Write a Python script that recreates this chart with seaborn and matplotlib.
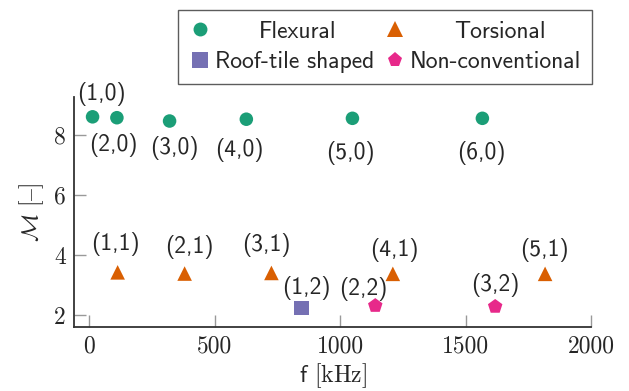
import matplotlib
matplotlib.use("Agg")
import matplotlib.pyplot as plt
import seaborn as sns
import pandas as pd
from matplotlib.lines import Line2D

# ---- data ----
flex_f = [13, 110, 320, 626, 1049, 1567]
flex_m = [8.61, 8.58, 8.47, 8.53, 8.56, 8.56]
flex_lab = ["(1,0)", "(2,0)", "(3,0)", "(4,0)", "(5,0)", "(6,0)"]

tors_f = [113, 380, 726, 1210, 1817]
tors_m = [3.43, 3.39, 3.41, 3.38, 3.38]
tors_lab = ["(1,1)", "(2,1)", "(3,1)", "(4,1)", "(5,1)"]

roof_f = [845]
roof_m = [2.25]
roof_lab = ["(1,2)"]

nonc_f = [1140, 1618]
nonc_m = [2.32, 2.29]
nonc_lab = ["(2,2)", "(3,2)"]

categories = ["Flexural", "Torsional", "Roof-tile shaped", "Non-conventional"]
x_ticks = [0, 500, 1000, 1500, 2000]
y_ticks = [2, 4, 6, 8]

# ---- styling (label offsets in pixels) ----
flex_off = [(9, 23), (-4, -27), (5, -27), (-7, -31), (-2, -35), (-1.5, -35)]
tors_off = [(-2, 28), (4.5, 27), (-4.7, 28), (2, 24), (-1, 24)]
roof_off = [(5, 20)]
nonc_off = [(-12, 17), (0, 22)]

colors = {"Flexural": "#1b9e77", "Torsional": "#d95f02",
          "Roof-tile shaped": "#7570b3", "Non-conventional": "#e7298a"}
markers = {"Flexural": "o", "Torsional": "^",
           "Roof-tile shaped": "s", "Non-conventional": "p"}
sizes = {"Flexural": 95, "Torsional": 110, "Roof-tile shaped": 110, "Non-conventional": 120}

sns.set_style("white")
plt.rcParams["mathtext.fontset"] = "cm"
plt.rcParams["axes.unicode_minus"] = False
plt.rcParams["axes.formatter.use_mathtext"] = True

FS = 17
SANS = ["cmss10", "DejaVu Sans"]
SERIF = ["cmr10", "DejaVu Serif"]

groups = [
    ("Flexural", flex_f, flex_m, flex_lab, flex_off),
    ("Torsional", tors_f, tors_m, tors_lab, tors_off),
    ("Roof-tile shaped", roof_f, roof_m, roof_lab, roof_off),
    ("Non-conventional", nonc_f, nonc_m, nonc_lab, nonc_off),
]
rows = []
for name, fs, ms, labs, offs in groups:
    for f, m, l in zip(fs, ms, labs):
        rows.append({"f": f, "M": m, "type": name, "label": l})
df = pd.DataFrame(rows)

fig = plt.figure(figsize=(6.29, 3.91), dpi=100)
ax = fig.add_axes([74 / 629, (391 - 326.7) / 391, (591 - 74) / 629, (326.7 - 97.3) / 391])

for name, fs, ms, labs, offs in groups:
    sub = df[df["type"] == name]
    sns.scatterplot(data=sub, x="f", y="M", marker=markers[name], color=colors[name],
                    s=sizes[name], edgecolor="none", linewidth=0, ax=ax, legend=False,
                    zorder=3)
    for f, m, l, (dx, dy) in zip(fs, ms, labs, offs):
        ax.annotate(l, (f, m), xytext=(dx, dy), textcoords="offset pixels",
                    ha="center", va="center", fontsize=FS, family=SANS)

ax.set_xlim(-61, 2000)
ax.set_ylim(1.62, 9.26)
ax.set_xticks(x_ticks)
ax.set_yticks(y_ticks)
ax.set_xticklabels([str(t) for t in x_ticks], family=SERIF, fontsize=FS)
ax.set_yticklabels([str(t) for t in y_ticks], family=SERIF, fontsize=FS)

for s in ["top", "right"]:
    ax.spines[s].set_visible(False)
for s in ["left", "bottom"]:
    ax.spines[s].set_color("#333333")
    ax.spines[s].set_linewidth(1.3)
ax.tick_params(direction="in", length=8.5, width=1.0, color="#999999", pad=6,
               left=True, bottom=True)

ax.set_xlabel(r"$\mathsf{f}$ [kHz]", family=SERIF, fontsize=FS, labelpad=3)
ax.set_ylabel(r"$\mathcal{M}\ [\mathrm{–}]$", family=SERIF, fontsize=FS, labelpad=6)

order = ["Flexural", "Roof-tile shaped", "Torsional", "Non-conventional"]
handles = [Line2D([], [], linestyle="none", marker=markers[n], color=colors[n],
                  markersize=11 if n != "Flexural" else 10, markeredgewidth=0)
           for n in order]
leg = fig.legend(handles, order, ncol=2, loc="upper right",
                 bbox_to_anchor=(592 / 629, 1 - 10 / 391),
                 prop={"family": SANS, "size": FS}, frameon=True, fancybox=False,
                 edgecolor="#333333", handletextpad=0.15, columnspacing=0.35,
                 handlelength=1.0, borderpad=0.45, labelspacing=0.35,
                 borderaxespad=0)
leg.get_frame().set_linewidth(1.0)

# centre the first-row texts inside their columns (as in the reference)
extra_pt = 31.5
for col in leg._legend_handle_box.get_children():
    first = col.get_children()[0]
    first.sep = first.sep + extra_pt

fig.savefig("out.png", dpi=100)
